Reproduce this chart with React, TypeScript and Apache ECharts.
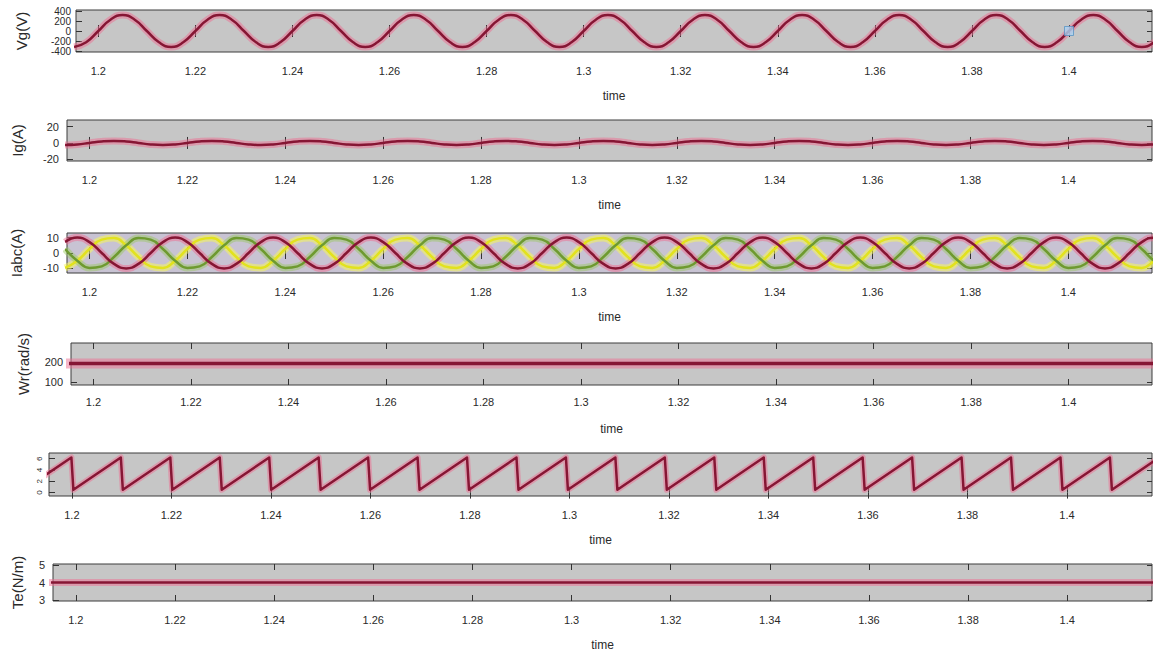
import { useEffect, useRef } from 'react';
import * as echarts from 'echarts';

// sample times (1/8 of a 50 Hz period)
const T8 = [
  1.195, 1.1975, 1.2, 1.2025, 1.205, 1.2075, 1.21, 1.2125,
  1.215, 1.2175, 1.22, 1.2225, 1.225, 1.2275, 1.23, 1.2325,
  1.235, 1.2375, 1.24, 1.2425, 1.245, 1.2475, 1.25, 1.2525,
  1.255, 1.2575, 1.26, 1.2625, 1.265, 1.2675, 1.27, 1.2725,
  1.275, 1.2775, 1.28, 1.2825, 1.285, 1.2875, 1.29, 1.2925,
  1.295, 1.2975, 1.3, 1.3025, 1.305, 1.3075, 1.31, 1.3125,
  1.315, 1.3175, 1.32, 1.3225, 1.325, 1.3275, 1.33, 1.3325,
  1.335, 1.3375, 1.34, 1.3425, 1.345, 1.3475, 1.35, 1.3525,
  1.355, 1.3575, 1.36, 1.3625, 1.365, 1.3675, 1.37, 1.3725,
  1.375, 1.3775, 1.38, 1.3825, 1.385, 1.3875, 1.39, 1.3925,
  1.395, 1.3975, 1.4, 1.4025, 1.405, 1.4075, 1.41, 1.4125,
  1.415, 1.4175, 1.42,
];

const VG = [
  -320, -226, 0, 226, 320, 226, 0, -226,
  -320, -226, 0, 226, 320, 226, 0, -226,
  -320, -226, 0, 226, 320, 226, 0, -226,
  -320, -226, 0, 226, 320, 226, 0, -226,
  -320, -226, 0, 226, 320, 226, 0, -226,
  -320, -226, 0, 226, 320, 226, 0, -226,
  -320, -226, 0, 226, 320, 226, 0, -226,
  -320, -226, 0, 226, 320, 226, 0, -226,
  -320, -226, 0, 226, 320, 226, 0, -226,
  -320, -226, 0, 226, 320, 226, 0, -226,
  -320, -226, 0, 226, 320, 226, 0, -226,
  -320, -226, 0,
];

const IG = [
  -2.5, -1.8, 0, 1.8, 2.5, 1.8, 0, -1.8,
  -2.5, -1.8, 0, 1.8, 2.5, 1.8, 0, -1.8,
  -2.5, -1.8, 0, 1.8, 2.5, 1.8, 0, -1.8,
  -2.5, -1.8, 0, 1.8, 2.5, 1.8, 0, -1.8,
  -2.5, -1.8, 0, 1.8, 2.5, 1.8, 0, -1.8,
  -2.5, -1.8, 0, 1.8, 2.5, 1.8, 0, -1.8,
  -2.5, -1.8, 0, 1.8, 2.5, 1.8, 0, -1.8,
  -2.5, -1.8, 0, 1.8, 2.5, 1.8, 0, -1.8,
  -2.5, -1.8, 0, 1.8, 2.5, 1.8, 0, -1.8,
  -2.5, -1.8, 0, 1.8, 2.5, 1.8, 0, -1.8,
  -2.5, -1.8, 0, 1.8, 2.5, 1.8, 0, -1.8,
  -2.5, -1.8, 0,
];

const IA = [
  7.1, 10, 7.1, 0, -7.1, -10, -7.1, 0,
  7.1, 10, 7.1, 0, -7.1, -10, -7.1, 0,
  7.1, 10, 7.1, 0, -7.1, -10, -7.1, 0,
  7.1, 10, 7.1, 0, -7.1, -10, -7.1, 0,
  7.1, 10, 7.1, 0, -7.1, -10, -7.1, 0,
  7.1, 10, 7.1, 0, -7.1, -10, -7.1, 0,
  7.1, 10, 7.1, 0, -7.1, -10, -7.1, 0,
  7.1, 10, 7.1, 0, -7.1, -10, -7.1, 0,
  7.1, 10, 7.1, 0, -7.1, -10, -7.1, 0,
  7.1, 10, 7.1, 0, -7.1, -10, -7.1, 0,
  7.1, 10, 7.1, 0, -7.1, -10, -7.1, 0,
  7.1, 10, 7.1,
];

const IB = [
  -9.7, -5, 2.6, 8.7, 9.7, 5, -2.6, -8.7,
  -9.7, -5, 2.6, 8.7, 9.7, 5, -2.6, -8.7,
  -9.7, -5, 2.6, 8.7, 9.7, 5, -2.6, -8.7,
  -9.7, -5, 2.6, 8.7, 9.7, 5, -2.6, -8.7,
  -9.7, -5, 2.6, 8.7, 9.7, 5, -2.6, -8.7,
  -9.7, -5, 2.6, 8.7, 9.7, 5, -2.6, -8.7,
  -9.7, -5, 2.6, 8.7, 9.7, 5, -2.6, -8.7,
  -9.7, -5, 2.6, 8.7, 9.7, 5, -2.6, -8.7,
  -9.7, -5, 2.6, 8.7, 9.7, 5, -2.6, -8.7,
  -9.7, -5, 2.6, 8.7, 9.7, 5, -2.6, -8.7,
  -9.7, -5, 2.6, 8.7, 9.7, 5, -2.6, -8.7,
  -9.7, -5, 2.6,
];

const IC = [
  2.6, -5, -9.7, -8.7, -2.6, 5, 9.7, 8.7,
  2.6, -5, -9.7, -8.7, -2.6, 5, 9.7, 8.7,
  2.6, -5, -9.7, -8.7, -2.6, 5, 9.7, 8.7,
  2.6, -5, -9.7, -8.7, -2.6, 5, 9.7, 8.7,
  2.6, -5, -9.7, -8.7, -2.6, 5, 9.7, 8.7,
  2.6, -5, -9.7, -8.7, -2.6, 5, 9.7, 8.7,
  2.6, -5, -9.7, -8.7, -2.6, 5, 9.7, 8.7,
  2.6, -5, -9.7, -8.7, -2.6, 5, 9.7, 8.7,
  2.6, -5, -9.7, -8.7, -2.6, 5, 9.7, 8.7,
  2.6, -5, -9.7, -8.7, -2.6, 5, 9.7, 8.7,
  2.6, -5, -9.7, -8.7, -2.6, 5, 9.7, 8.7,
  2.6, -5, -9.7,
];

const WR_T = [1.19, 1.42];
const WR_V = [192, 192];

const TE_T = [1.19, 1.42];
const TE_V = [4, 4];

// sawtooth (angle) : peaks then fast drops
const SAW_T = [
  1.19036, 1.1999, 1.2003, 1.20984, 1.21024, 1.21978, 1.22018, 1.22972, 1.23012,
  1.23966, 1.24006, 1.2496, 1.25, 1.25954, 1.25994, 1.26948, 1.26988, 1.27942, 1.27982,
  1.28936, 1.28976, 1.2993, 1.2997, 1.30924, 1.30964, 1.31918, 1.31958, 1.32912, 1.32952,
  1.33906, 1.33946, 1.349, 1.3494, 1.35894, 1.35934, 1.36888, 1.36928, 1.37882, 1.37922,
  1.38876, 1.38916, 1.3987, 1.3991, 1.40864, 1.40904, 1.41858, 1.41898,
];
const SAW_V = [
  0.5, 6.2, 0.5, 6.2, 0.5, 6.2, 0.5, 6.2, 0.5,
  6.2, 0.5, 6.2, 0.5, 6.2, 0.5, 6.2, 0.5, 6.2, 0.5,
  6.2, 0.5, 6.2, 0.5, 6.2, 0.5, 6.2, 0.5, 6.2, 0.5,
  6.2, 0.5, 6.2, 0.5, 6.2, 0.5, 6.2, 0.5, 6.2, 0.5,
  6.2, 0.5, 6.2, 0.5, 6.2, 0.5, 6.2, 0.5,
];

const MARKER_T = [1.4];
const MARKER_V = [0];

const X_TICKS = [1.2, 1.22, 1.24, 1.26, 1.28, 1.3, 1.32, 1.34, 1.36, 1.38, 1.4];
const X_MIN = 1.1954;
const X_MAX = 1.4171;

const Y_NAMES = ['Vg(V)', 'Ig(A)', 'Iabc(A)', 'Wr(rad/s)', '', 'Te(N/m)'];
const Y_TICKS = [
  [-400, -200, 0, 200, 400],
  [-20, 0, 20],
  [-10, 0, 10],
  [100, 200],
  [0, 2, 4, 6],
  [3, 4, 5],
];
const Y_MIN = [-420, -22, -13, 85, -0.6, 2.95];
const Y_MAX = [420, 28, 13, 295, 7, 5.05];

const LAYOUT = [
  { top: 10, height: 42, left: 76, nameGap: 47, bg: '#c6c6c6' },
  { top: 120, height: 41, left: 67, nameGap: 42, bg: '#c6c6c6' },
  { top: 233, height: 40, left: 67, nameGap: 43, bg: '#c8c3d3' },
  { top: 343, height: 42, left: 71, nameGap: 40, bg: '#c6c6c6' },
  { top: 453, height: 43, left: 49, nameGap: 30, bg: '#c6c6c6' },
  { top: 564, height: 37, left: 53, nameGap: 28, bg: '#c6c6c6' },
];

const FONT = 'Liberation Sans, Arial, sans-serif';
const TXT = '#2a2a2a';
const RED = '#861634';
const RED_GLOW = 'rgba(238,110,145,0.5)';

function pairs(ts: number[], vs: number[]) {
  return ts.map((t, i) => [t, vs[i]]);
}

export default function App() {
  const ref = useRef<HTMLDivElement>(null);
  useEffect(() => {
    document.body.style.margin = '0';
    if (!ref.current) return;
    const chart = echarts.init(ref.current, undefined, { renderer: 'svg' });

    const grid: any[] = [];
    const xAxis: any[] = [];
    const yAxis: any[] = [];
    LAYOUT.forEach((L, i) => {
      grid.push({
        left: L.left,
        right: 1,
        top: L.top,
        height: L.height,
        show: true,
        backgroundColor: L.bg,
        borderColor: '#3c3c3c',
        borderWidth: 1,
      });
      xAxis.push({
        type: 'value',
        gridIndex: i,
        min: X_MIN,
        max: X_MAX,
        position: 'bottom',
        name: 'time',
        nameLocation: 'middle',
        nameGap: 38,
        nameTextStyle: { fontFamily: FONT, fontSize: 12, color: TXT },
        axisLine: { show: false },
        axisTick: {
          show: true,
          inside: true,
          length: 6,
          customValues: X_TICKS,
          lineStyle: { color: '#333', width: 1 },
        },
        axisLabel: {
          show: true,
          customValues: X_TICKS,
          hideOverlap: false,
          margin: i === 3 ? 11 : 13,
          fontFamily: FONT,
          fontSize: 11,
          color: TXT,
          formatter: (v: number) => String(+v.toFixed(2)),
        },
        splitLine: { show: false },
      });
      xAxis.push({
        type: 'value',
        gridIndex: i,
        min: X_MIN,
        max: X_MAX,
        position: 'top',
        axisLine: { show: false },
        axisTick: {
          show: true,
          inside: true,
          length: 6,
          customValues: X_TICKS,
          lineStyle: { color: '#333', width: 1 },
        },
        axisLabel: { show: false },
        splitLine: { show: false },
      });
      const small = i === 4;
      const tight = i === 0;
      yAxis.push({
        type: 'value',
        gridIndex: i,
        min: Y_MIN[i],
        max: Y_MAX[i],
        position: 'left',
        name: Y_NAMES[i],
        nameLocation: 'middle',
        nameGap: L.nameGap,
        nameRotate: 90,
        nameTextStyle: { fontFamily: FONT, fontSize: 15, color: TXT },
        axisLine: { show: false },
        axisTick: {
          show: true,
          inside: true,
          length: 6,
          customValues: Y_TICKS[i],
          lineStyle: { color: '#333' },
        },
        axisLabel: {
          show: true,
          customValues: Y_TICKS[i],
          hideOverlap: false,
          showMinLabel: true,
          showMaxLabel: true,
          margin: small ? 6 : tight ? 5 : 8,
          fontFamily: FONT,
          fontSize: small ? 8 : tight ? 10 : 11,
          lineHeight: tight ? 9 : undefined,
          rotate: small ? 90 : 0,
          color: TXT,
        },
        splitLine: { show: false },
      });
      yAxis.push({
        type: 'value',
        gridIndex: i,
        min: Y_MIN[i],
        max: Y_MAX[i],
        position: 'right',
        axisLine: { show: false },
        axisTick: {
          show: true,
          inside: true,
          length: 5,
          customValues: Y_TICKS[i],
          lineStyle: { color: '#333' },
        },
        axisLabel: { show: false },
        splitLine: { show: false },
      });
    });

    const line = (
      i: number,
      data: number[][],
      color: string,
      width: number,
      smooth: boolean,
      z: number
    ) => ({
      type: 'line',
      xAxisIndex: 2 * i,
      yAxisIndex: 2 * i,
      data,
      smooth,
      showSymbol: false,
      symbol: 'none',
      clip: true,
      z,
      lineStyle: { color, width, cap: 'butt', join: 'round' },
      silent: true,
    });

    const vg = pairs(T8, VG);
    const ig = pairs(T8, IG);
    const ia = pairs(T8, IA);
    const ib = pairs(T8, IB);
    const ic = pairs(T8, IC);
    const wr = pairs(WR_T, WR_V);
    const saw = pairs(SAW_T, SAW_V);
    const te = pairs(TE_T, TE_V);

    const series: any[] = [
      line(0, vg, RED_GLOW, 7, true, 2),
      line(0, vg, RED, 2.5, true, 3),
      {
        type: 'scatter',
        xAxisIndex: 0,
        yAxisIndex: 0,
        data: pairs(MARKER_T, MARKER_V),
        symbol: 'rect',
        symbolSize: 9,
        z: 5,
        itemStyle: { color: '#a9d3f2', borderColor: '#5a93c4', borderWidth: 1 },
      },
      line(1, ig, RED_GLOW, 7, true, 2),
      line(1, ig, RED, 2.5, true, 3),
      line(2, ib, 'rgba(245,245,90,0.55)', 7, true, 2),
      line(2, ib, '#e2e21e', 2.5, true, 3),
      line(2, ic, 'rgba(150,200,90,0.45)', 7, true, 2),
      line(2, ic, '#6e9a30', 2.5, true, 3),
      line(2, ia, RED_GLOW, 7, true, 2),
      line(2, ia, RED, 2.5, true, 4),
      line(3, wr, RED_GLOW, 10, false, 2),
      line(3, wr, RED, 3.5, false, 3),
      line(4, saw, RED_GLOW, 6, false, 2),
      line(4, saw, RED, 2.5, false, 3),
      line(5, te, RED_GLOW, 7, false, 2),
      line(5, te, RED, 2.5, false, 3),
    ];

    chart.setOption({
      animation: false,
      backgroundColor: '#ffffff',
      grid,
      xAxis,
      yAxis,
      series,
    });
    return () => chart.dispose();
  }, []);
  return <div ref={ref} style={{ width: 1153, height: 655 }} />;
}
